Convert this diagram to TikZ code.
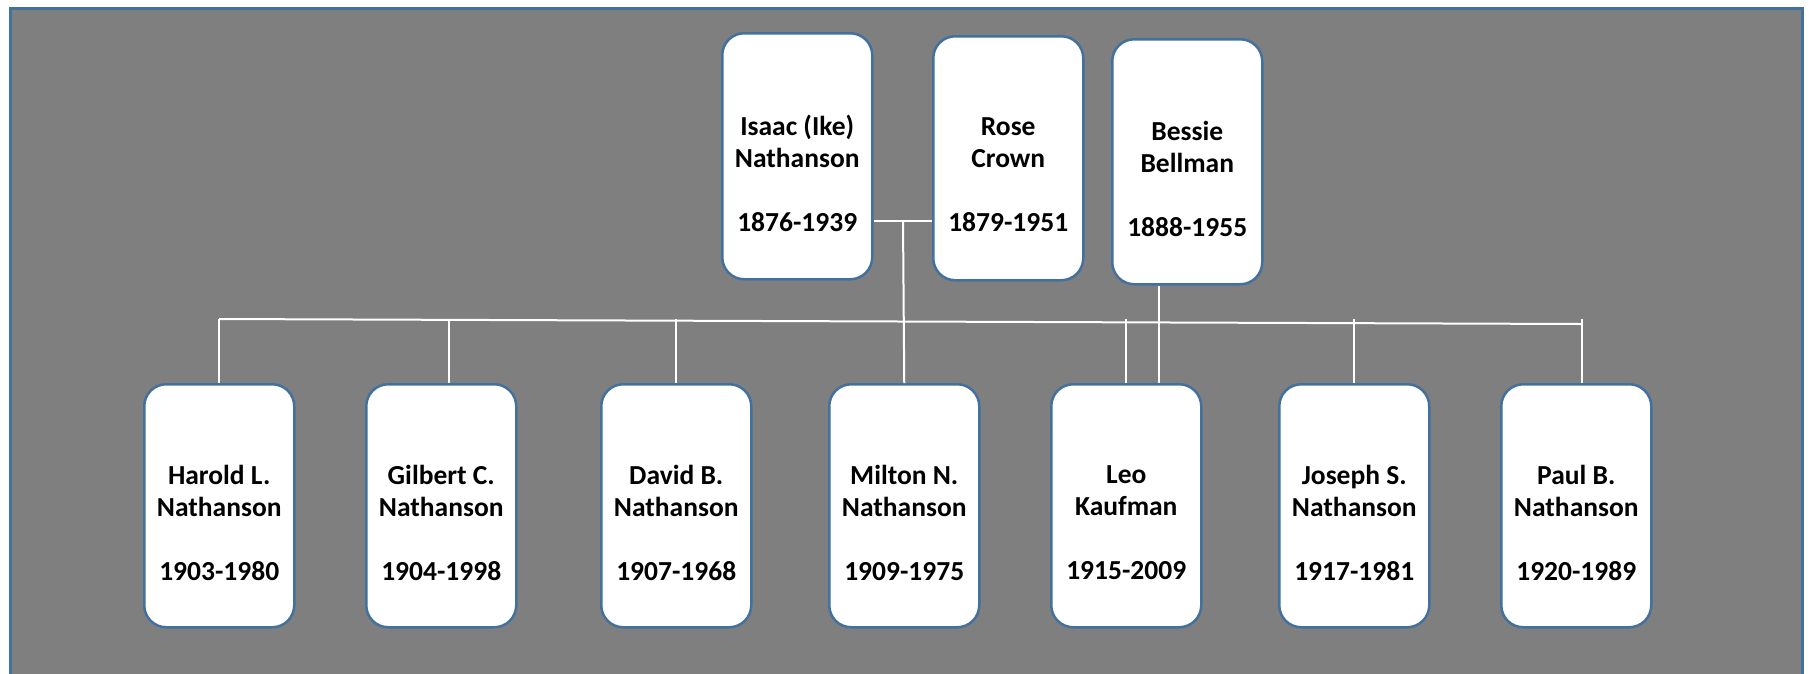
\documentclass[tikz,border=0pt]{standalone}
\usepackage{fontspec}
\setmainfont{Carlito}
\definecolor{bgray}{HTML}{7F7F7F}
\definecolor{edgeblue}{HTML}{41719C}
\tikzset{
  frame/.style={draw=edgeblue, line width=3pt, fill=bgray},
  person/.style={draw=edgeblue, line width=2.5pt, fill=white, rounded corners=22pt,
    minimum width=150pt, minimum height=#1, inner sep=0pt, anchor=north west},
  person/.default=243pt,
  nametext/.style={font=\bfseries\fontsize{27.5}{32}\selectfont, align=center, text=black, inner sep=0pt},
  link/.style={draw=white, line width=2pt},
}
\begin{document}
\begin{tikzpicture}[x=1pt,y=-1pt]
\useasboundingbox (0,0) rectangle (1809,673);
\clip (0,0) rectangle (1809,673);
\path[frame] (10,8) rectangle (1802.5,700);

% top generation
\node[person=246pt] (isaac)  at (721,32) {};
\node[person=244pt] (rose)   at (932,35) {};
\node[person=245pt] (bessie) at (1111,38) {};

% children
\node[person] (harold) at (143,383) {};
\node[person] (gilbert) at (365,383) {};
\node[person] (david) at (600,383) {};
\node[person] (milton) at (828,383) {};
\node[person] (leo) at (1050,383) {};
\node[person] (joseph) at (1278,383) {};
\node[person] (paul) at (1500,383) {};

% texts
\node[nametext] (isaacT) at ([yshift=-17pt]isaac.center) {Isaac (Ike)\\Nathanson\\[32pt]1876-1939};
\node[nametext] (roseT) at ([yshift=-16pt]rose.center) {Rose\\Crown\\[32pt]1879-1951};
\node[nametext] (bessieT) at ([yshift=-17pt]bessie.center) {Bessie\\Bellman\\[32pt]1888-1955};
\node[nametext] (haroldT) at ([yshift=-17pt]harold.center) {Harold L.\\Nathanson\\[32pt]1903-1980};
\node[nametext] (gilbertT) at ([yshift=-17pt]gilbert.center) {Gilbert C.\\Nathanson\\[32pt]1904-1998};
\node[nametext] (davidT) at ([yshift=-17pt]david.center) {David B.\\Nathanson\\[32pt]1907-1968};
\node[nametext] (miltonT) at ([yshift=-17pt]milton.center) {Milton N.\\Nathanson\\[32pt]1909-1975};
\node[nametext] (leoT) at ([yshift=-17pt]leo.center) {Leo\\Kaufman\\[32pt]1915-2009};
\node[nametext] (josephT) at ([yshift=-17pt]joseph.center) {Joseph S.\\Nathanson\\[32pt]1917-1981};
\node[nametext] (paulT) at ([yshift=-17pt]paul.center) {Paul B.\\Nathanson\\[32pt]1920-1989};

% connectors
\coordinate (marr) at (903,221);
\coordinate (hl) at (219,319);
\coordinate (hr) at (1581,324);
\coordinate (bx) at (1159,0);
\draw[link] (isaac.east |- marr) -- (rose.west |- marr);
\draw[link] (marr) -- (milton.north);
\draw[link] (hl) -- (hr);
\draw[link] (harold.north) -- (harold.north |- hl);
\draw[link] ([xshift=8pt]gilbert.north) -- ([xshift=8pt]gilbert.north |- hl);
\draw[link] (david.north) -- (david.north |- hl);
\draw[link] (leo.north) -- (leo.north |- hl);
\draw[link] (joseph.north) -- (joseph.north |- hl);
\draw[link] ([xshift=6pt]paul.north) -- ([xshift=6pt]paul.north |- hl);
\draw[link] (bessie.south -| bx) -- (leo.north -| bx);
\end{tikzpicture}
\end{document}
